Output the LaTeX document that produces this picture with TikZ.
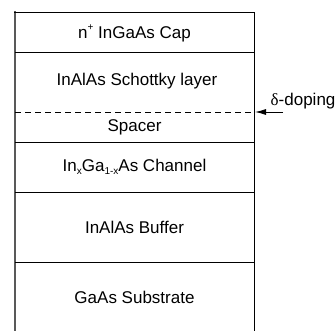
\documentclass[tikz,border=0pt]{standalone}
\usepackage{fontspec}
\setmainfont{Liberation Sans}
\newfontfamily\symfont{Liberation Serif}
\usetikzlibrary{arrows.meta}
\newcommand{\mysup}[1]{\raisebox{0.9ex}{\fontsize{10}{10}\selectfont #1}}
\newcommand{\mysub}[1]{\raisebox{-0.35ex}{\fontsize{10}{10}\selectfont #1}}
\begin{document}
\begin{tikzpicture}[x=1pt,y=-1pt,
  lbl/.style={font=\fontsize{17}{20}\selectfont, inner sep=0pt, anchor=center},
  sep/.style={draw=black, line width=0.9pt},
  dline/.style={draw=black, line width=0.9pt, dash pattern=on 6pt off 4pt}]
\useasboundingbox (0,0) rectangle (335,331);
% outline
\draw[line width=2pt, draw=gray!70!black] (15,11.5) -- (15,331);
\draw[sep] (14,12) -- (254.5,12) -- (254.5,331);
% layer separators
\draw[sep] (15,52) -- (254.5,52);
\draw[dline] (15,112) -- (254.5,112);
\draw[sep] (15,142) -- (254.5,142);
\draw[sep] (15,192) -- (254.5,192);
\draw[sep] (15,262) -- (254.5,262);
% labels
\node[lbl] (cap) at (134.5,33) {n\mysup{+} InGaAs Cap};
\node[lbl] (schottky) at (137,81) {InAlAs Schottky layer};
\node[lbl] (spacer) at (134.5,127.5) {Spacer};
\node[lbl] (channel) at (134.5,167) {In\mysub{x}Ga\mysub{1-x}As Channel};
\node[lbl] (buffer) at (134.5,227) {InAlAs Buffer};
\node[lbl] (substrate) at (134.5,297) {GaAs Substrate};
% delta doping
\coordinate (dstart) at (283,112);
\coordinate (dend) at (255,112);
\draw[line width=0.9pt, -{Latex[length=11pt,width=6pt]}] (dstart) -- (dend);
\node[lbl, anchor=west] (dop) at (270.5,101) {{\symfont δ}-doping};
\end{tikzpicture}
\end{document}
